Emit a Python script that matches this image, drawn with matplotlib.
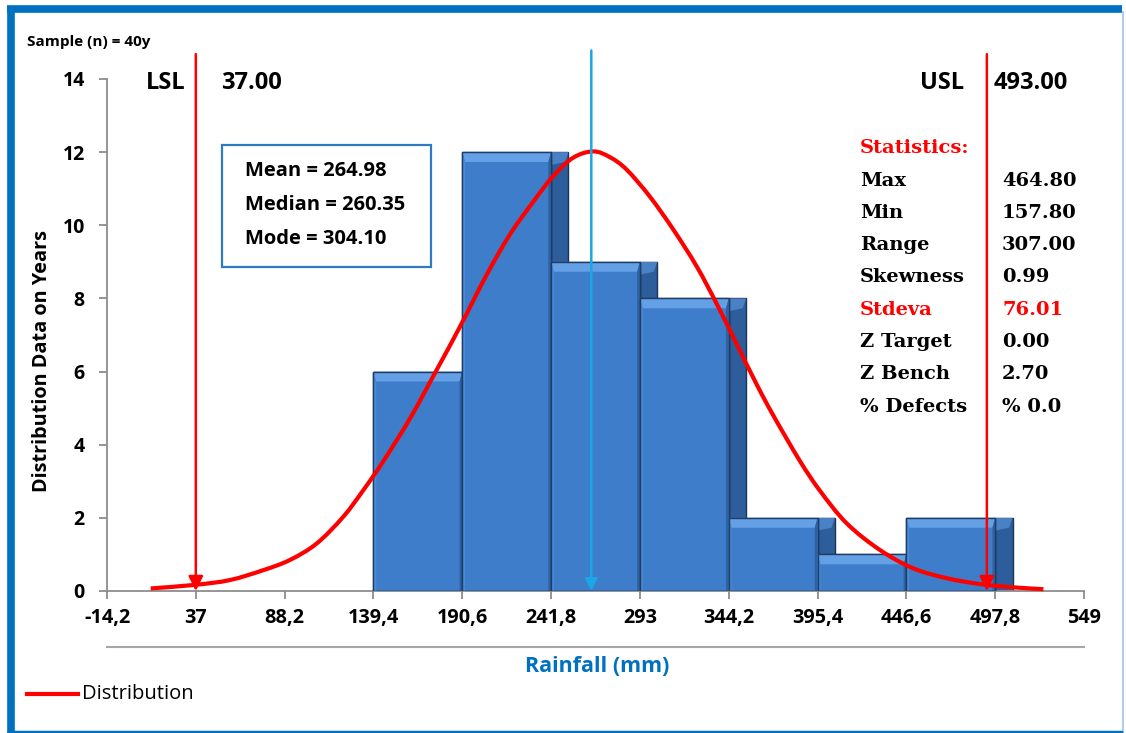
import matplotlib
matplotlib.use("Agg")
import matplotlib.pyplot as plt
from matplotlib.patches import Rectangle, Polygon, PathPatch
from matplotlib.path import Path
from matplotlib.lines import Line2D

# ---------------- data ----------------
bin_edges = [139.4, 190.6, 241.8, 293.0, 344.2, 395.4, 446.6, 497.8]
counts = [6, 12, 9, 8, 2, 1, 2]

curve_x = [11.0, 37.0, 56.7, 75.9, 91.3, 106.7, 122.0, 133.6, 145.1, 160.5,
           175.9, 189.3, 204.7, 218.1, 231.6, 243.1, 254.6, 266.2, 275.8,
           285.4, 298.8, 312.3, 325.8, 337.3, 348.8, 360.3, 369.9, 385.3,
           396.8, 412.2, 431.4, 450.6, 469.9, 489.1, 508.3, 525.6]
curve_y = [0.07, 0.17, 0.30, 0.57, 0.85, 1.30, 2.03, 2.76, 3.55, 4.72,
           6.05, 7.23, 8.65, 9.75, 10.65, 11.35, 11.85, 12.02, 11.86,
           11.52, 10.78, 9.88, 8.87, 7.85, 6.75, 5.65, 4.80, 3.55,
           2.74, 1.85, 1.12, 0.62, 0.35, 0.19, 0.10, 0.05]

x_ticks = [-14.2, 37, 88.2, 139.4, 190.6, 241.8, 293, 344.2, 395.4, 446.6, 497.8, 549]
x_tick_labels = ["-14,2", "37", "88,2", "139,4", "190,6", "241,8", "293",
                 "344,2", "395,4", "446,6", "497,8", "549"]
y_ticks = [0, 2, 4, 6, 8, 10, 12, 14]

lsl = 37.00
usl = 493.00
mean = 264.98
median = 260.35
mode = 304.10

stat_names = ["Max", "Min", "Range", "Skewness", "Stdeva", "Z Target", "Z Bench", "% Defects"]
stat_values = ["464.80", "157.80", "307.00", "0.99", "76.01", "0.00", "2.70", "% 0.0"]
stat_red = [False, False, False, False, True, False, False, False]

# ---------------- figure ----------------
W, H = 1126, 733
fig = plt.figure(figsize=(W / 100, H / 100), dpi=100)
fig.patch.set_facecolor("white")

def fx(px):
    return px / W

def fy(py):
    return 1 - py / H

FONT = "Open Sans"
GREY = "#8C8C8C"

ax = fig.add_axes([fx(107), fy(591), (1084 - 107) / W, (591 - 79) / H])
ax.set_xlim(-14.2, 549)
ax.set_ylim(0, 14)
for s in ["top", "right"]:
    ax.spines[s].set_visible(False)
for s in ["left", "bottom"]:
    ax.spines[s].set_color(GREY)
    ax.spines[s].set_linewidth(1.3)

ax.set_xticks(x_ticks)
ax.set_xticklabels(x_tick_labels, fontfamily=FONT, fontweight="bold", fontsize=14.3)
ax.set_yticks(y_ticks)
ax.set_yticklabels([str(v) for v in y_ticks], fontfamily=FONT, fontweight="bold", fontsize=14)
ax.tick_params(axis="x", direction="out", length=6, width=1.3, color=GREY, pad=6)
ax.tick_params(axis="y", direction="out", length=6, width=1.3, color=GREY, pad=10)

# ---------------- bars with 3D bevel look ----------------
side_w = 10.0
bx = 1.6
by = 0.27
for i, h in enumerate(counts):
    left, right = bin_edges[i], bin_edges[i + 1]
    # side face
    ax.add_patch(Rectangle((right, 0), side_w, h, facecolor="#2D5E9B",
                           edgecolor="#1A3556", linewidth=1.0, zorder=2))
    ax.add_patch(Polygon([(right, h), (right + side_w, h), (right + side_w - 2.0, h - by),
                          (right, h - by * 1.3)], closed=True, facecolor="#4A80C4",
                         edgecolor="none", zorder=2))
    # front face
    ax.add_patch(Rectangle((left, 0), right - left, h, facecolor="#3E7DCA",
                           edgecolor="#1E3D66", linewidth=1.0, zorder=3))
    ax.add_patch(Polygon([(left, h), (right, h), (right - bx, h - by), (left + bx, h - by)],
                         closed=True, facecolor="#64A0E6", edgecolor="none", zorder=3))
    ax.add_patch(Polygon([(left, 0), (left, h), (left + bx, h - by), (left + bx, 0)],
                         closed=True, facecolor="#4D8AD6", edgecolor="none", zorder=3))
    ax.add_patch(Polygon([(right, 0), (right, h), (right - bx, h - by), (right - bx, 0)],
                         closed=True, facecolor="#2F62A2", edgecolor="none", zorder=3))
    ax.add_patch(Rectangle((left, 0), right - left, h, facecolor="none",
                           edgecolor="#1E3D66", linewidth=1.0, zorder=3))

# ---------------- distribution curve (smoothed like a spreadsheet line) ----------------
verts = [(curve_x[0], curve_y[0])]
codes = [Path.MOVETO]
n = len(curve_x)
for k in range(n - 1):
    p0 = (curve_x[max(k - 1, 0)], curve_y[max(k - 1, 0)])
    p1 = (curve_x[k], curve_y[k])
    p2 = (curve_x[k + 1], curve_y[k + 1])
    p3 = (curve_x[min(k + 2, n - 1)], curve_y[min(k + 2, n - 1)])
    c1 = (p1[0] + (p2[0] - p0[0]) / 6.0, p1[1] + (p2[1] - p0[1]) / 6.0)
    c2 = (p2[0] - (p3[0] - p1[0]) / 6.0, p2[1] - (p3[1] - p1[1]) / 6.0)
    verts += [c1, c2, p2]
    codes += [Path.CURVE4, Path.CURVE4, Path.CURVE4]
ax.add_patch(PathPatch(Path(verts, codes), facecolor="none", edgecolor="#FF0000",
                       linewidth=3.0, capstyle="butt", joinstyle="round", zorder=5,
                       clip_on=False))

# ---------------- spec lines and mean line ----------------
top_y = 14.68
for xv, col in [(lsl, "#FF0000"), (usl, "#FF0000")]:
    ax.annotate("", xy=(xv, 0.0), xytext=(xv, top_y),
                arrowprops=dict(arrowstyle="-|>", color=col, lw=1.8,
                                mutation_scale=22, shrinkA=0, shrinkB=0),
                annotation_clip=False, zorder=6)
ax.annotate("", xy=(mean, 0.0), xytext=(mean, 14.78),
            arrowprops=dict(arrowstyle="-|>", color="#1AA7E4", lw=1.8,
                            mutation_scale=18, shrinkA=0, shrinkB=0),
            annotation_clip=False, zorder=6)

# ---------------- texts ----------------
fig.text(fx(27), fy(42), "Sample (n) = 40y", fontfamily=FONT, fontweight="bold",
         fontsize=11, va="center", ha="left")
fig.text(fx(186), fy(83), "LSL", fontfamily=FONT, fontweight="bold", fontsize=17,
         va="center", ha="right")
fig.text(fx(221), fy(83), f"{lsl:.2f}", fontfamily=FONT, fontweight="bold", fontsize=17,
         va="center", ha="left")
fig.text(fx(964), fy(83), "USL", fontfamily=FONT, fontweight="bold", fontsize=17,
         va="center", ha="right")
fig.text(fx(994), fy(83), f"{usl:.2f}", fontfamily=FONT, fontweight="bold", fontsize=17,
         va="center", ha="left")

# mean/median/mode box
fig.add_artist(Rectangle((fx(222), fy(267)), (431 - 222) / W, (267 - 145) / H,
                         transform=fig.transFigure, facecolor="white",
                         edgecolor="#2E7BC4", linewidth=1.6, zorder=4))
for j, txt in enumerate([f"Mean = {mean:.2f}", f"Median = {median:.2f}", f"Mode = {mode:.2f}"]):
    fig.text(fx(245), fy(171 + j * 34), txt, fontfamily=FONT, fontweight="bold",
             fontsize=14.5, va="center", ha="left", zorder=5)

# statistics block
SERIF = "DejaVu Serif"
fig.text(fx(860), fy(148), "Statistics:", fontfamily=SERIF, fontweight="bold",
         fontsize=14, color="#FF0000", va="center", ha="left")
for j, (nm, val, red) in enumerate(zip(stat_names, stat_values, stat_red)):
    col = "#FF0000" if red else "black"
    yy = fy(180.5 + j * 32.3)
    fig.text(fx(860), yy, nm, fontfamily=SERIF, fontweight="bold", fontsize=14,
             color=col, va="center", ha="left")
    fig.text(fx(1002), yy, val, fontfamily=SERIF, fontweight="bold", fontsize=14,
             color=col, va="center", ha="left")

# axis titles
fig.text(fx(42), fy(361), "Distribution Data on Years", fontfamily=FONT, fontweight="bold",
         fontsize=14.3, rotation=90, va="center", ha="center")
fig.text(fx(597), fy(667), "Rainfall (mm)", fontfamily=FONT, fontweight="bold",
         fontsize=15.5, color="#0070C0", va="center", ha="center")

# secondary grey line under tick labels
fig.add_artist(Line2D([fx(107), fx(1084)], [fy(647), fy(647)], color="#A6A6A6",
                      linewidth=1.5, transform=fig.transFigure))

# legend
fig.add_artist(Line2D([fx(27), fx(78)], [fy(694), fy(694)], color="#FF0000",
                      linewidth=3.0, transform=fig.transFigure))
fig.text(fx(82), fy(694), "Distribution", fontfamily=FONT, fontsize=14.5,
         va="center", ha="left")

# outer frame
BLUE = "#0070C0"
fig.add_artist(Line2D([fx(7), fx(1122)], [fy(8.5), fy(8.5)], color=BLUE, linewidth=5.5,
                      transform=fig.transFigure, solid_capstyle="butt"))
fig.add_artist(Line2D([fx(10.5), fx(10.5)], [fy(6), fy(733)], color=BLUE, linewidth=5.5,
                      transform=fig.transFigure, solid_capstyle="butt"))
fig.add_artist(Line2D([fx(7), fx(1123)], [fy(731.5), fy(731.5)], color=BLUE, linewidth=2.5,
                      transform=fig.transFigure, solid_capstyle="butt"))
fig.add_artist(Line2D([fx(1122.5), fx(1122.5)], [fy(11), fy(731)], color="#9DC3E6",
                      linewidth=1.2, transform=fig.transFigure, solid_capstyle="butt"))

fig.savefig("out.png", dpi=100)
